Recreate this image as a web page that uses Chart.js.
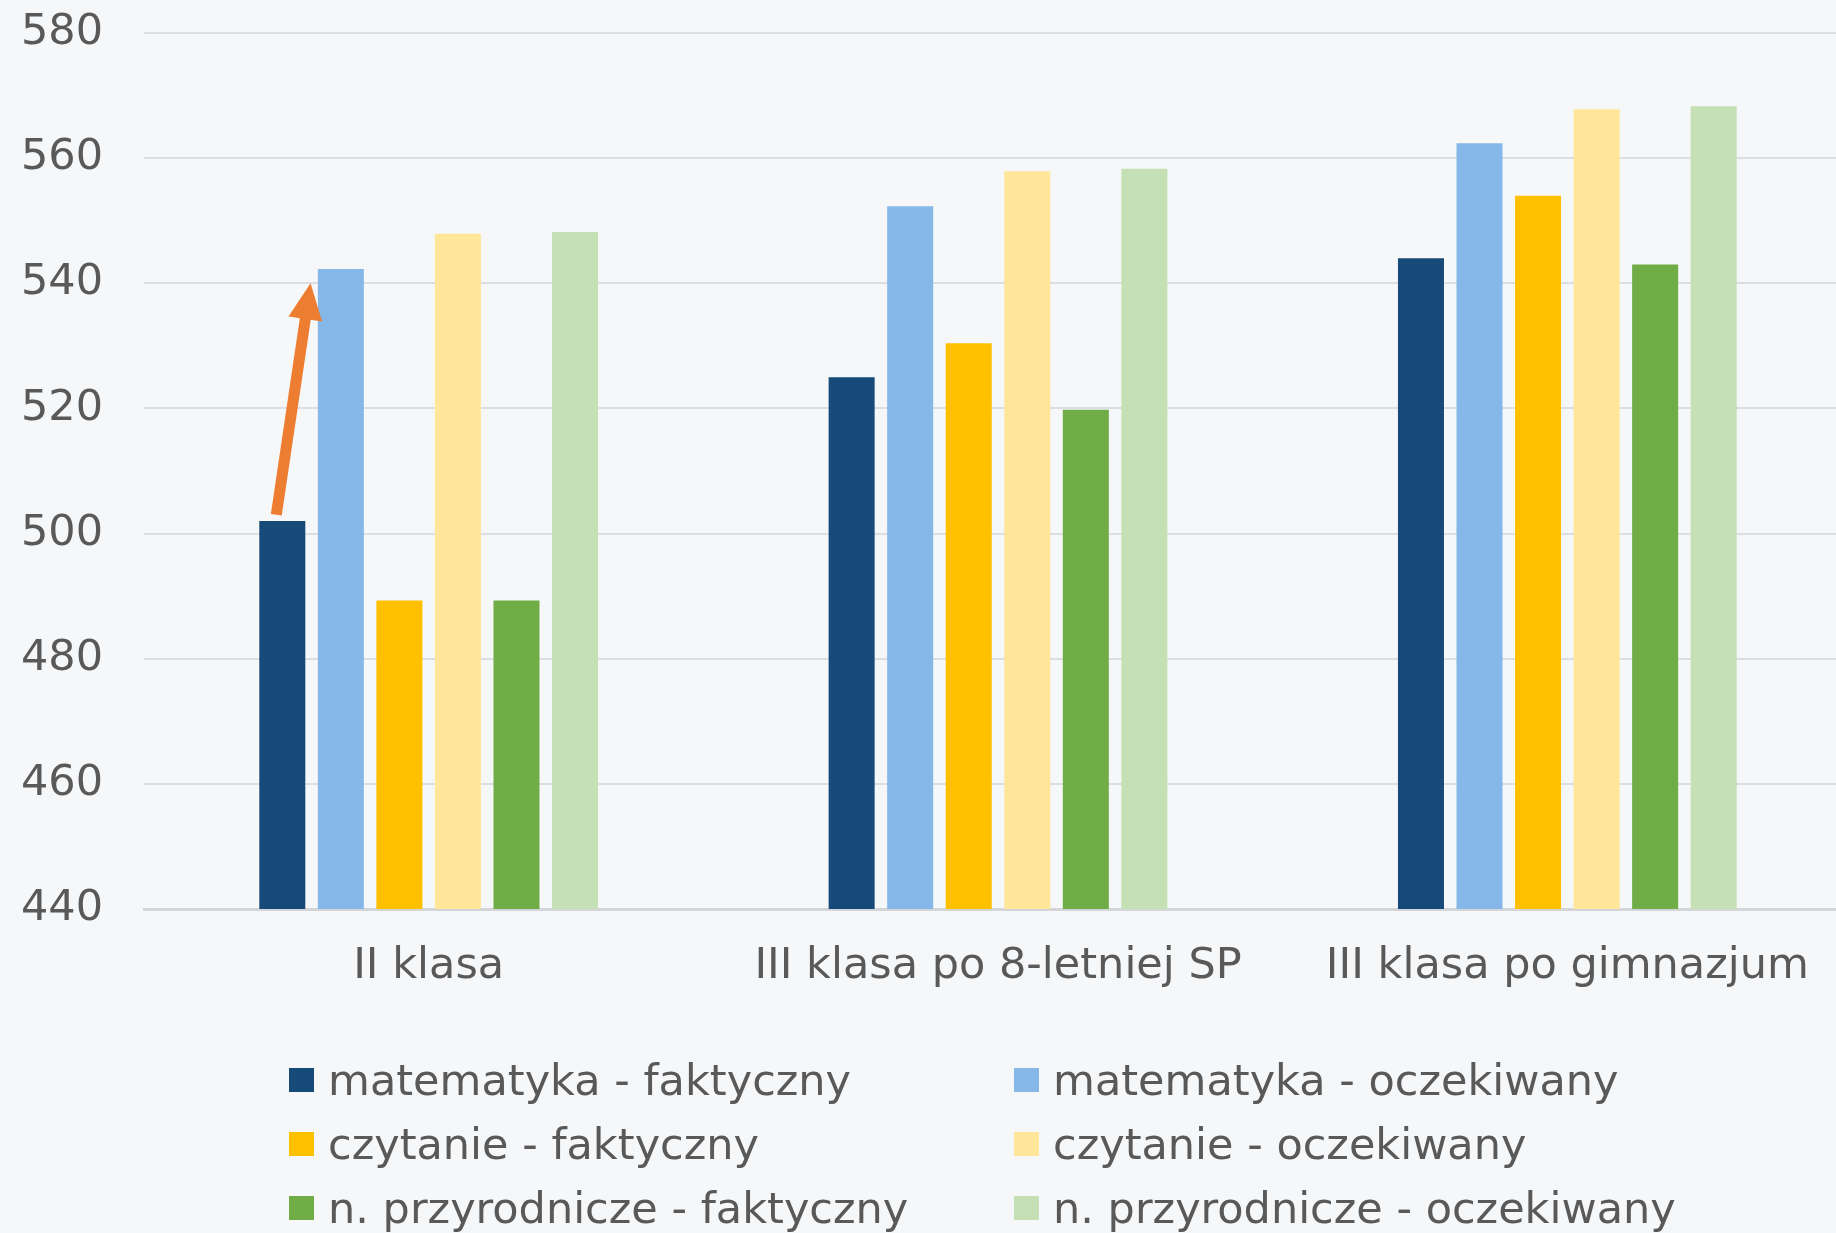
<!DOCTYPE html>
<html>
<head>
<meta charset="utf-8">
<script src="https://cdn.jsdelivr.net/npm/chart.js@4/dist/chart.umd.min.js"></script>
<style>
  html, body { margin: 0; padding: 0; background: #F6F7F9; overflow: hidden; width: 1836px; height: 1233px; }
  #wrap { position: relative; width: 1856px; height: 1233px; }
  #c { position: absolute; left: 0; top: 0; }
  #legend { position: absolute; left: 0; top: 0; width: 1836px; height: 1233px; pointer-events: none;
            font-family: "DejaVu Sans", sans-serif; font-size: 43px; color: #595959; }
  .item { position: absolute; display: flex; align-items: center; height: 50px; white-space: nowrap; }
  .box { width: 25px; height: 24px; margin-right: 14px; flex: none; }
</style>
</head>
<body>
<div id="wrap">
  <canvas id="c" width="1856" height="1233"></canvas>
  <div id="legend"></div>
</div>
<script>
// ---- data ----
const categories = ["II klasa", "III klasa po 8-letniej SP", "III klasa po gimnazjum"];
const seriesLabels = [
  "matematyka - faktyczny", "matematyka - oczekiwany",
  "czytanie - faktyczny", "czytanie - oczekiwany",
  "n. przyrodnicze - faktyczny", "n. przyrodnicze - oczekiwany"
];
const matematykaFaktyczny = [502, 525, 544];
const matematykaOczekiwany = [542.3, 552.3, 562.4];
const czytanieFaktyczny = [489.3, 530.4, 554];
const czytanieOczekiwany = [547.9, 557.9, 567.8];
const przyrodniczeFaktyczny = [489.3, 519.8, 543];
const przyrodniczeOczekiwany = [548.2, 558.3, 568.3];
const yTicks = [440, 460, 480, 500, 520, 540, 560, 580];
const arrowValues = [503, 540]; // annotation arrow: from top of first bar up to expected level

const colors = ["#154A79", "#85B7E9", "#FFC000", "#FFE699", "#70AD47", "#C5E0B4"];
const seriesValues = [matematykaFaktyczny, matematykaOczekiwany, czytanieFaktyczny,
                      czytanieOczekiwany, przyrodniczeFaktyczny, przyrodniczeOczekiwany];

const FONT = '"DejaVu Sans", sans-serif';
const TEXT = '#595959';

const arrowPlugin = {
  id: 'arrow',
  afterDatasetsDraw(chart) {
    const ctx = chart.ctx;
    const b0 = chart.getDatasetMeta(0).data[0];
    const b1 = chart.getDatasetMeta(1).data[0];
    const y = chart.scales.y;
    const x0 = b0.x - 6;
    const y0 = y.getPixelForValue(arrowValues[0]);
    const x1 = ((b0.x + b0.width / 2) + (b1.x - b1.width / 2)) / 2 - 1;
    const y1 = y.getPixelForValue(arrowValues[1]);
    const ang = Math.atan2(y1 - y0, x1 - x0);
    const headLen = 36, headHalf = 17;
    const bx = x1 - headLen * Math.cos(ang), by = y1 - headLen * Math.sin(ang);
    ctx.save();
    ctx.strokeStyle = '#ED7D31';
    ctx.fillStyle = '#ED7D31';
    ctx.lineWidth = 11;
    ctx.lineCap = 'butt';
    ctx.beginPath();
    ctx.moveTo(x0, y0);
    ctx.lineTo(bx + 2 * Math.cos(ang), by + 2 * Math.sin(ang));
    ctx.stroke();
    ctx.beginPath();
    ctx.moveTo(x1, y1);
    ctx.lineTo(bx + headHalf * Math.sin(ang), by - headHalf * Math.cos(ang));
    ctx.lineTo(bx - headHalf * Math.sin(ang), by + headHalf * Math.cos(ang));
    ctx.closePath();
    ctx.fill();
    ctx.restore();
  }
};

const chart = new Chart(document.getElementById('c'), {
  type: 'bar',
  data: {
    labels: categories,
    datasets: seriesLabels.map((lab, i) => ({
      label: lab,
      data: seriesValues[i],
      backgroundColor: colors[i],
      borderWidth: 0,
      categoryPercentage: 0.617,
      barPercentage: 0.786
    }))
  },
  options: {
    responsive: false,
    devicePixelRatio: 1,
    animation: false,
    layout: { padding: { top: 33, right: 4, bottom: 0, left: 0 } },
    plugins: { legend: { display: false }, tooltip: { enabled: false } },
    scales: {
      x: {
        grid: { display: false },
        border: { display: true, color: '#D3D5D8', width: 3 },
        ticks: { color: TEXT, font: { family: FONT, size: 43 }, padding: 24, maxRotation: 0, autoSkip: false },
        afterFit(s) { s.height = 324; }
      },
      y: {
        min: 440, max: 580,
        afterBuildTicks(s) { s.ticks = yTicks.map(v => ({ value: v })); },
        grid: { color: '#DCDEE1', lineWidth: 2, drawTicks: false },
        border: { display: false },
        ticks: { color: TEXT, font: { family: FONT, size: 43 }, padding: 41 },
        afterFit(s) { s.width = 144; s.paddingTop = 0; s.paddingBottom = 0; }
      }
    }
  },
  plugins: [arrowPlugin]
});

// custom two-column legend built from the chart's datasets
const legend = document.getElementById('legend');
const colX = [289, 1014];
const rowY = [1080, 1144, 1208];
chart.data.datasets.forEach((ds, i) => {
  const col = i % 2, row = Math.floor(i / 2);
  const el = document.createElement('div');
  el.className = 'item';
  el.style.left = colX[col] + 'px';
  el.style.top = (rowY[row] - 25) + 'px';
  const box = document.createElement('span');
  box.className = 'box';
  box.style.background = ds.backgroundColor;
  const t = document.createElement('span');
  t.textContent = ds.label;
  el.appendChild(box); el.appendChild(t);
  legend.appendChild(el);
});
</script>
</body>
</html>
